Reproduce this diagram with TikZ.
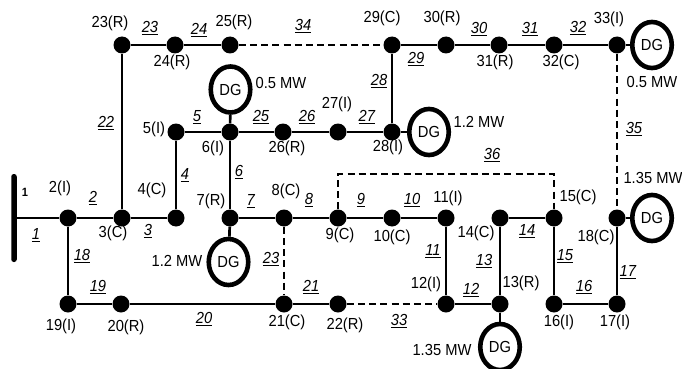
\documentclass[tikz,border=0pt]{standalone}
\usepackage{fontspec}
\setmainfont[FakeStretch=0.92]{Liberation Sans}
\usetikzlibrary{shapes.geometric}
\newcommand{\ul}[1]{\underline{\smash{\textit{#1}}\vphantom{1}}}
\tikzset{
  bus/.style={circle,fill=black,inner sep=0pt,minimum size=17pt},
  line/.style={line width=2.7pt},
  tie/.style={line width=2.7pt,dash pattern=on 7pt off 4.2pt},
  dg/.style={ellipse,draw=black,fill=white,line width=4.6pt,minimum width=39.5pt,minimum height=46pt,inner sep=0pt,font=\fontsize{16}{16}\selectfont},
  txt/.style={inner sep=0pt,font=\fontsize{16}{16}\selectfont},
  lab/.style={inner sep=0pt,font=\fontsize{16}{16}\selectfont},
  bar/.style={rectangle,rounded corners=2.5pt,fill=black,inner sep=0pt,minimum width=5.5pt,minimum height=88pt}
}
\begin{document}
\begin{tikzpicture}[x=1pt,y=-1pt]
\useasboundingbox (0,0) rectangle (682,369);
% busbar
\node[bar] (bar) at (14,218) {};
% buses
\foreach \n/\x/\y in {
 2/68/218,3/122/218,4/176/218,5/176/132,6/230/132,7/230/218,8/284/218,9/338/218,10/392/218,11/446/218,
 12/446/304,13/500/304,14/500/218,15/554/218,16/554/304,17/617/304,18/617/218,19/68/304,20/121/304,
 21/284/304,22/338/304,23/122/45,24/175/45,25/230/45,26/283/132,27/338/132,28/392/132,29/392/45,
 30/446/45,31/499/45,32/554/45,33/617/45}{
  \node[bus] (n\n) at (\x,\y) {};
}
% distributed generators
\node[dg] (dgA) at (230.5,89.5) {DG};
\node[dg] (dgB) at (429,132) {DG};
\node[dg] (dgC) at (652,45) {DG};
\node[dg] (dgD) at (228.5,262) {DG};
\node[dg] (dgE) at (500,347) {DG};
\node[dg] (dgF) at (652,218) {DG};
\coordinate (c36) at (446,174);
% solid lines
\foreach \a/\b in {2/3,3/4,7/8,8/9,9/10,10/11,11/12,12/13,13/14,14/15,15/16,16/17,17/18,2/19,19/20,20/21,21/22,
 3/23,23/24,24/25,4/5,5/6,6/7,6/26,26/27,27/28,28/29,29/30,30/31,31/32,32/33}{
  \draw[line] (n\a) -- (n\b);
}
\draw[line] (bar) -- (n2);
\draw[line] (n6) -- (dgA);
\draw[line] (n28) -- (dgB);
\draw[line] (n33) -- (dgC);
\draw[line] (n7) -- (dgD);
\draw[line] (n13) -- (dgE);
\draw[line] (n18) -- (dgF);
% tie lines
\draw[tie] (n25) -- (n29);
\draw[tie] (n33) -- (n18);
\draw[tie] (n8) -- (n21);
\draw[tie] (n22) -- (n12);
\draw[tie] (n9) |- (c36) -| (n15);
% bus labels
\foreach \t/\x/\y/\m in {
 2(I)/60/188/a,3(C)/113/233/b,4(C)/152/190/c,5(I)/154/129/d,6(I)/213/148/e,7(R)/211/201/f,8(C)/286/191/g,9(C)/340/235/h,
 10(C)/392/237/i,11(I)/448/198/j,12(I)/426/284/k,13(R)/521/283/l,14(C)/476/233/m,15(C)/578/197/n,16(I)/559/322/o,
 17(I)/615/322/p,18(C)/596/237/q,19(I)/61/326/r,20(R)/126/327/s,21(C)/287/322/t,22(R)/345/325/u,23(R)/110/23/v,
 24(R)/172/62/w,25(R)/234/22/x,26(R)/287/148/y,27(I)/337/104/z,28(I)/388/147/aa,29(C)/382/18/ab,30(R)/442/18/ac,
 31(R)/495/62/ad,32(C)/561/62/ae,33(I)/609/19/af}{
  \node[txt] (t\m) at (\x,\y) {\t};
}
\node[txt,font=\fontsize{12}{12}\selectfont\bfseries] (tbar) at (25,192) {1};
% power labels
\node[txt] (pA) at (281,83) {0.5 MW};
\node[txt] (pB) at (479,122) {1.2 MW};
\node[txt] (pC) at (652,82) {0.5 MW};
\node[txt] (pD) at (177,261) {1.2 MW};
\node[txt] (pE) at (442,350) {1.35 MW};
\node[txt] (pF) at (653,178) {1.35 MW};
% branch labels
\foreach \t/\x/\y/\m in {
 1/36/235/a,2/93/198/b,3/148/231/c,4/185/175/d,5/197/117/e,6/239/172/f,7/251/201/g,8/309/200/h,9/361/200/i,10/412/200/j,
 11/433/251/k,12/471/290/l,13/484/261/m,14/527/231/n,15/565/256/o,16/584/287/p,17/628/272/q,18/82/256/r,19/98/287/s,
 20/204/319/t,21/311/287/u,22/106/123/v,23/150/28/w,24/199/30/x,25/261/117/y,26/307/117/z,27/367/117/aa,28/379/81/ab,
 29/416/59/ac,30/479/29/ad,31/530/29/ae,32/578/28/af,33/399/321/ag,34/303/26/ah,35/634/129/ai,36/492/155/aj}{
  \node[lab] (b\m) at (\x,\y) {\ul{\t}};
}
\node[lab] (bak) at (271,259) {\ul{23}};
\end{tikzpicture}
\end{document}
